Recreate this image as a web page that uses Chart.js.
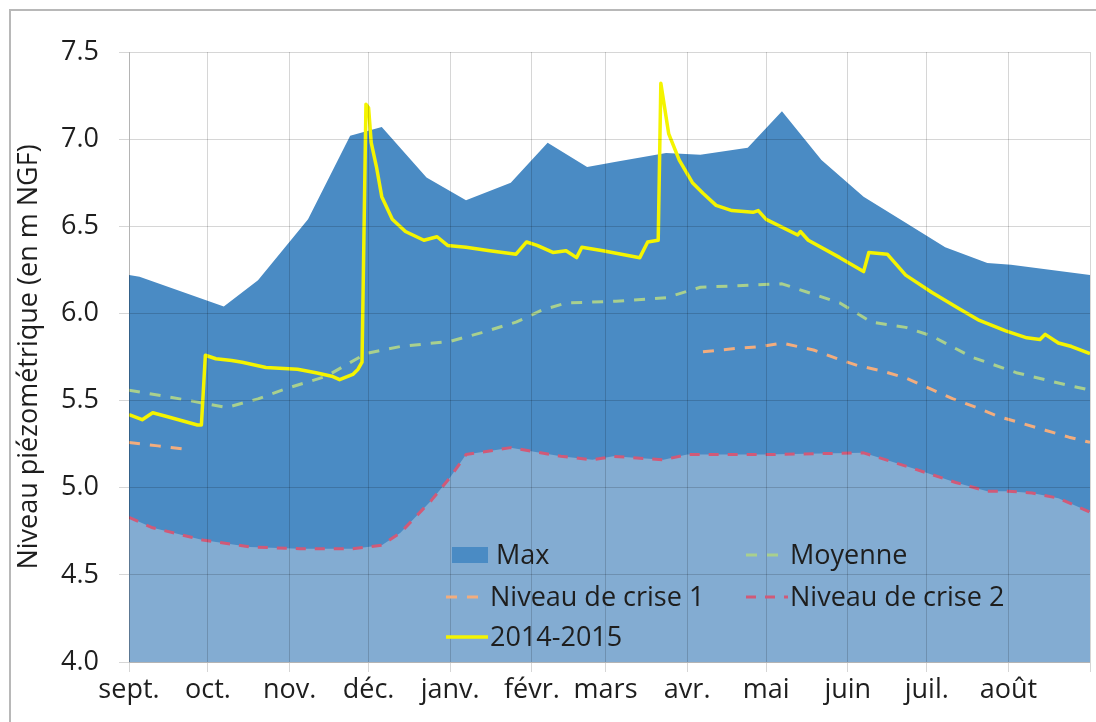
<!DOCTYPE html>
<html lang="fr">
<head>
<meta charset="utf-8">
<title>Niveau piézométrique 2014-2015</title>
<script src="https://cdn.jsdelivr.net/npm/chart.js@4.4.1/dist/chart.umd.min.js"></script>
<style>
  html, body { margin: 0; padding: 0; background: #fff; overflow: hidden; }
  #wrap  { position: relative; width: 1096px; height: 722px; overflow: hidden; }
  #frame { position: absolute; left: 9px; top: 9px; width: 1300px; height: 900px;
           border: 2px solid #b8b8b8; box-sizing: border-box; }
  #chart { position: absolute; left: 0; top: 0; }
</style>
</head>
<body>
<div id="wrap">
  <div id="frame"></div>
  <canvas id="chart" width="1096" height="722"></canvas>
</div>
<script>
// ── Axes ─────────────────────────────────────────────────────────────────
// x = jours depuis le 1er septembre
const monthLabels = ['sept.', 'oct.', 'nov.', 'déc.', 'janv.', 'févr.', 'mars', 'avr.', 'mai', 'juin', 'juil.', 'août'];
const monthStarts = [0, 30, 61, 91, 122, 153, 181, 212, 242, 273, 303, 334, 365];
const yTicks      = [4.0, 4.5, 5.0, 5.5, 6.0, 6.5, 7.0, 7.5];

// ── Séries ───────────────────────────────────────────────────────────────
const maxDays   = [0, 4, 36, 49, 68, 76, 84, 96, 113, 128, 145, 159, 174, 185, 204, 217, 235, 248, 263, 279, 295, 310, 326, 335, 365];
const maxValues = [6.22, 6.21, 6.04, 6.19, 6.54, 6.78, 7.02, 7.07, 6.78, 6.65, 6.75, 6.98, 6.84, 6.87, 6.92, 6.91, 6.95, 7.16, 6.88, 6.67, 6.52, 6.38, 6.29, 6.28, 6.22];

const moyDays   = [0, 23, 37, 49, 60, 75, 90, 103, 122, 134, 147, 157, 166, 185, 204, 217, 248, 258, 270, 282, 295, 305, 320, 337, 356, 365];
const moyValues = [5.56, 5.50, 5.46, 5.51, 5.57, 5.64, 5.77, 5.81, 5.84, 5.89, 5.95, 6.02, 6.06, 6.07, 6.09, 6.15, 6.17, 6.12, 6.06, 5.95, 5.92, 5.87, 5.75, 5.66, 5.59, 5.56];

const crise1Days   = [0, 11, 22, 120, 218, 231, 240, 248, 260, 269, 277, 286, 295, 304, 313, 322, 330, 339, 348, 357, 365];
const crise1Values = [5.26, 5.24, 5.22, null, 5.78, 5.80, 5.81, 5.83, 5.79, 5.74, 5.70, 5.67, 5.63, 5.57, 5.51, 5.46, 5.41, 5.37, 5.33, 5.29, 5.26];

const crise2Days   = [0, 9, 28, 46, 65, 85, 96, 103, 115, 122, 128, 145, 164, 176, 184, 203, 212, 241, 279, 298, 314, 326, 334, 343, 353, 365];
const crise2Values = [4.83, 4.77, 4.70, 4.66, 4.65, 4.65, 4.67, 4.74, 4.93, 5.06, 5.19, 5.23, 5.18, 5.16, 5.18, 5.16, 5.19, 5.19, 5.20, 5.11, 5.03, 4.98, 4.98, 4.97, 4.94, 4.86];

const serieDays   = [0, 5, 9, 14, 26, 27.5, 29, 33, 39, 43, 52, 64, 71, 77, 80, 85, 87, 88.5, 90, 91, 92, 94, 96, 100, 105, 112, 117, 121, 128, 137, 147, 151, 155, 161, 166, 170, 172, 180, 187, 194, 197, 201, 202, 205, 209, 214, 218, 223, 229, 237, 239, 242, 254, 255, 258, 270, 279, 281, 288, 295, 305, 315, 323, 333, 341, 346, 348, 353, 358, 365];
const serieValues = [5.42, 5.39, 5.43, 5.41, 5.36, 5.36, 5.76, 5.74, 5.73, 5.72, 5.69, 5.68, 5.66, 5.64, 5.62, 5.65, 5.68, 5.72, 7.20, 7.18, 6.98, 6.84, 6.67, 6.54, 6.47, 6.42, 6.44, 6.39, 6.38, 6.36, 6.34, 6.41, 6.39, 6.35, 6.36, 6.32, 6.38, 6.36, 6.34, 6.32, 6.41, 6.42, 7.32, 7.03, 6.88, 6.75, 6.69, 6.62, 6.59, 6.58, 6.59, 6.54, 6.45, 6.47, 6.42, 6.32, 6.24, 6.35, 6.34, 6.22, 6.12, 6.03, 5.96, 5.90, 5.86, 5.85, 5.88, 5.83, 5.81, 5.77];

const points = (xs, ys) => xs.map((x, i) => ({ x, y: ys[i] }));

// ── Couleurs ─────────────────────────────────────────────────────────────
const C_MAX    = '#4a8bc4';
const C_MIN    = '#83acd2';
const C_MOY    = '#a9d08e';
const C_CRISE1 = '#f2ad7e';
const C_CRISE2 = '#d05a78';
const C_SERIE  = '#f4f400';
const C_TEXT   = '#1e1e1e';
const FONT     = '"Open Sans", "DejaVu Sans", sans-serif';

// ── Légende dans la zone de tracé ────────────────────────────────────────
const legendSlots = [
    { label: 'Max',               x: 452, y: 555, box: true },
    { label: 'Moyenne',           x: 746, y: 555 },
    { label: 'Niveau de crise 1', x: 446, y: 597 },
    { label: 'Niveau de crise 2', x: 746, y: 597 },
    { label: '2014-2015',         x: 446, y: 637 },
];

const insideLegend = {
    id: 'insideLegend',
    afterDraw(chart) {
        const ctx = chart.ctx;
        ctx.save();
        ctx.font = '27px ' + FONT;
        ctx.textBaseline = 'middle';
        legendSlots.forEach(slot => {
            const ds = chart.data.datasets.find(d => d.label === slot.label);
            if (slot.box) {
                ctx.fillStyle = ds.backgroundColor;
                ctx.fillRect(slot.x, slot.y - 8, 36, 16);
            } else {
                ctx.strokeStyle = ds.borderColor;
                ctx.lineWidth = ds.borderWidth;
                ctx.setLineDash(ds.borderDash || []);
                ctx.beginPath();
                ctx.moveTo(slot.x, slot.y);
                ctx.lineTo(slot.x + 42, slot.y);
                ctx.stroke();
                ctx.setLineDash([]);
            }
            ctx.fillStyle = C_TEXT;
            ctx.fillText(ds.label, slot.x + 44, slot.y + 1);
        });
        ctx.restore();
    },
};

new Chart(document.getElementById('chart'), {
    type: 'line',
    data: {
        datasets: [
            {
                label: '2014-2015',
                data: points(serieDays, serieValues),
                borderColor: C_SERIE,
                borderWidth: 3.5,
                fill: false,
                order: 0,
            },
            {
                label: 'Niveau de crise 2',
                data: points(crise2Days, crise2Values),
                borderColor: C_CRISE2,
                borderWidth: 3,
                borderDash: [10, 9],
                backgroundColor: C_MIN,
                fill: 'origin',
                order: 4,
            },
            {
                label: 'Niveau de crise 1',
                data: points(crise1Days, crise1Values),
                borderColor: C_CRISE1,
                borderWidth: 3,
                borderDash: [11, 10],
                fill: false,
                order: 2,
            },
            {
                label: 'Moyenne',
                data: points(moyDays, moyValues),
                borderColor: C_MOY,
                borderWidth: 3,
                borderDash: [11, 10],
                fill: false,
                order: 3,
            },
            {
                label: 'Max',
                data: points(maxDays, maxValues),
                borderWidth: 0,
                borderColor: C_MAX,
                backgroundColor: C_MAX,
                fill: 'origin',
                order: 5,
            },
        ],
    },
    options: {
        responsive: false,
        animation: false,
        events: [],
        layout: { padding: { left: 13, right: 6, top: 52, bottom: 0 } },
        elements: {
            point: { radius: 0 },
            line: { tension: 0, borderJoinStyle: 'round' },
        },
        plugins: {
            legend: { display: false },
            tooltip: { enabled: false },
        },
        scales: {
            x: {
                type: 'linear',
                min: 0,
                max: 365,
                afterBuildTicks: scale => { scale.ticks = monthStarts.map(v => ({ value: v })); },
                afterFit: scale => { scale.height = 60; },
                grid: { color: 'rgba(0,0,0,0.16)', tickLength: 10, z: 1 },
                border: { color: 'rgba(0,0,0,0.16)', z: 1 },
                ticks: {
                    autoSkip: false,
                    maxRotation: 0,
                    padding: 2,
                    color: C_TEXT,
                    font: { family: FONT, size: 27 },
                    callback: (v, i) => monthLabels[i] ?? '',
                },
            },
            y: {
                min: 4,
                max: 7.5,
                afterBuildTicks: scale => { scale.ticks = yTicks.map(v => ({ value: v })); },
                afterFit: scale => { scale.width = 116; },
                grid: { color: 'rgba(0,0,0,0.16)', tickLength: 10, z: 1 },
                border: { color: 'rgba(0,0,0,0.16)', z: 1 },
                ticks: {
                    padding: 20,
                    color: C_TEXT,
                    font: { family: FONT, size: 27 },
                    callback: v => v.toFixed(1),
                },
                title: {
                    display: true,
                    text: 'Niveau piézométrique (en m NGF)',
                    color: C_TEXT,
                    font: { family: FONT, size: 27 },
                    padding: { top: 0, bottom: 0 },
                },
            },
        },
    },
    plugins: [insideLegend],
});
</script>
</body>
</html>
